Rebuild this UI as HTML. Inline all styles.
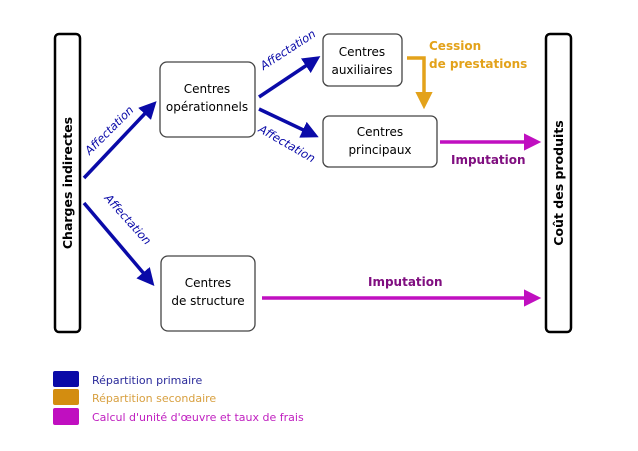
<!DOCTYPE html>
<html><head><meta charset="utf-8"><style>
html,body{margin:0;padding:0;background:#fff;}
svg{display:block;font-family:"DejaVu Sans","Liberation Sans",sans-serif;}
</style></head><body>
<svg width="638" height="451" viewBox="0 0 638 451" xmlns="http://www.w3.org/2000/svg">
<defs>
<marker id="b" markerWidth="5" markerHeight="5" refX="3.5" refY="2.5" orient="auto" markerUnits="strokeWidth"><path d="M0,0 L5,2.5 L0,5 z" fill="#0a0aa8"/></marker>
<marker id="m" markerWidth="5" markerHeight="5" refX="3.5" refY="2.5" orient="auto" markerUnits="strokeWidth"><path d="M0,0 L5,2.5 L0,5 z" fill="#c00fc0"/></marker>
<marker id="o" markerWidth="5" markerHeight="5" refX="3.5" refY="2.5" orient="auto" markerUnits="strokeWidth"><path d="M0,0 L5,2.5 L0,5 z" fill="#e3a21a"/></marker>
</defs>
<rect x="55" y="34" width="25" height="298" rx="4" fill="#fff" stroke="#000" stroke-width="2.5"/>
<text transform="translate(72,183) rotate(-90)" text-anchor="middle" font-size="12.5" font-weight="bold">Charges indirectes</text>
<rect x="546" y="34" width="25" height="298" rx="4" fill="#fff" stroke="#000" stroke-width="2.5"/>
<text transform="translate(563,183) rotate(-90)" text-anchor="middle" font-size="12.5" font-weight="bold">Coût des produits</text>

<rect x="160" y="62" width="95" height="75" rx="7" fill="#fff" stroke="#444" stroke-width="1.3"/>
<text x="207" y="93" text-anchor="middle" font-size="12">Centres</text>
<text x="207" y="111" text-anchor="middle" font-size="12">opérationnels</text>
<rect x="323" y="34" width="79" height="52" rx="6" fill="#fff" stroke="#444" stroke-width="1.3"/>
<text x="362" y="56" text-anchor="middle" font-size="12">Centres</text>
<text x="362" y="74" text-anchor="middle" font-size="12">auxiliaires</text>
<rect x="323" y="116" width="114" height="51" rx="6" fill="#fff" stroke="#444" stroke-width="1.3"/>
<text x="380" y="136" text-anchor="middle" font-size="12">Centres</text>
<text x="380" y="154" text-anchor="middle" font-size="12">principaux</text>
<rect x="161" y="256" width="94" height="75" rx="7" fill="#fff" stroke="#444" stroke-width="1.3"/>
<text x="208" y="287" text-anchor="middle" font-size="12">Centres</text>
<text x="208" y="305" text-anchor="middle" font-size="12">de structure</text>

<g stroke="#0a0aa8" stroke-width="3.5" fill="none">
<line x1="84" y1="178" x2="153" y2="105" marker-end="url(#b)"/>
<line x1="84" y1="203" x2="151" y2="282" marker-end="url(#b)"/>
<line x1="259" y1="97" x2="316" y2="59" marker-end="url(#b)"/>
<line x1="259" y1="109" x2="314" y2="135" marker-end="url(#b)"/>
</g>
<g fill="#0a0aa8" font-size="11.5" font-style="italic">
<text transform="translate(112,133) rotate(-45)" text-anchor="middle">Affectation</text>
<text transform="translate(125,222) rotate(48)" text-anchor="middle">Affectation</text>
<text transform="translate(290,53) rotate(-33)" text-anchor="middle">Affectation</text>
<text transform="translate(285,147) rotate(30)" text-anchor="middle">Affectation</text>
</g>
<polyline points="407,58 424,58 424,104" stroke="#e3a21a" stroke-width="3.5" fill="none" marker-end="url(#o)"/>
<text x="429" y="50" font-size="12" font-weight="bold" fill="#e3a21a">Cession</text>
<text x="429" y="68" font-size="12" font-weight="bold" fill="#e3a21a">de prestations</text>
<g stroke="#c00fc0" stroke-width="3.5" fill="none">
<line x1="440" y1="142" x2="536" y2="142" marker-end="url(#m)"/>
<line x1="262" y1="298" x2="536" y2="298" marker-end="url(#m)"/>
</g>
<text x="451" y="164" font-size="12" font-weight="bold" fill="#800f80">Imputation</text>
<text x="368" y="286" font-size="12" font-weight="bold" fill="#800f80">Imputation</text>

<rect x="53" y="371" width="26" height="16" rx="2" fill="#0a0aa8"/>
<rect x="53" y="389" width="26" height="16" rx="2" fill="#d38d10"/>
<rect x="53" y="408" width="26" height="17" rx="2" fill="#c00fc0"/>
<g font-size="11">
<text x="92" y="384" fill="#2a2a9a">Répartition primaire</text>
<text x="92" y="402" fill="#d8a040">Répartition secondaire</text>
<text x="92" y="421" fill="#c020c0">Calcul d'unité d'œuvre et taux de frais</text>
</g>
</svg>
</body></html>
